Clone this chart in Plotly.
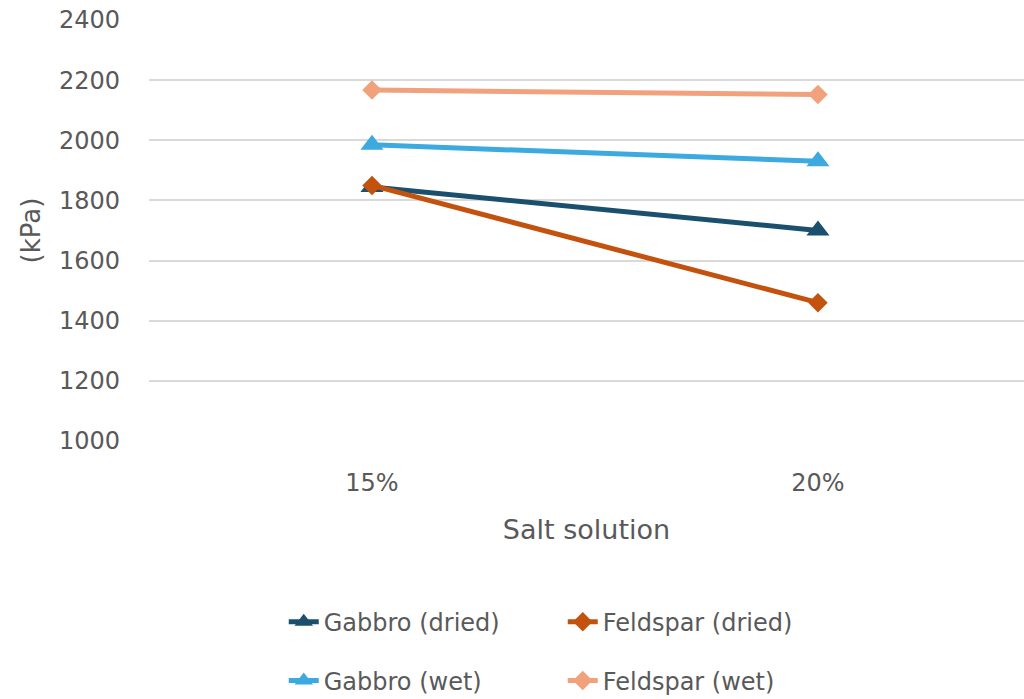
import plotly.graph_objects as go

# Salt solution concentrations (x categories)
concentrations = ["15%", "20%"]

# Strength values in kPa
gabbro_dried = [1845, 1700]
feldspar_dried = [1850, 1460]
gabbro_wet = [1985, 1930]
feldspar_wet = [2167, 2152]

y_ticks = [1000, 1200, 1400, 1600, 1800, 2000, 2200, 2400]

FONT = "DejaVu Sans"
TEXT_COLOR = "#595959"
GRID_COLOR = "#d9d9d9"

series = [
    ("Gabbro (dried)", gabbro_dried, "#1a4f6e", "triangle-up", 20, "legend"),
    ("Feldspar (dried)", feldspar_dried, "#c4520f", "diamond", 15, "legend"),
    ("Gabbro (wet)", gabbro_wet, "#3ca9df", "triangle-up", 20, "legend2"),
    ("Feldspar (wet)", feldspar_wet, "#f1a17b", "diamond", 15, "legend2"),
]

fig = go.Figure()
for name, values, color, symbol, size, legend in series:
    fig.add_trace(go.Scatter(
        x=[0, 1],
        y=values,
        name=name,
        mode="lines+markers",
        line=dict(color=color, width=5),
        marker=dict(symbol=symbol, size=size, color=color),
        legend=legend,
    ))

legend_style = dict(
    orientation="h",
    xanchor="left",
    yanchor="middle",
    x=0.154,
    font=dict(family=FONT, size=24, color=TEXT_COLOR),
    entrywidth=234,
    bgcolor="rgba(0,0,0,0)",
    traceorder="normal",
)

fig.update_layout(
    width=1024,
    height=699,
    margin=dict(l=149, r=0, t=20, b=258, autoexpand=False),
    paper_bgcolor="white",
    plot_bgcolor="white",
    font=dict(family=FONT, color=TEXT_COLOR, size=24),
    legend=dict(y=-0.43, **legend_style),
    legend2=dict(y=-0.57, **legend_style),
    xaxis=dict(
        range=[-0.5, 1.462],
        tickvals=[0, 1],
        ticktext=concentrations,
        showgrid=False,
        zeroline=False,
        showline=False,
        ticks="",
        tickfont=dict(family=FONT, size=24, color=TEXT_COLOR),
        ticklabelstandoff=25,
        title=dict(text="Salt solution", font=dict(family=FONT, size=27, color=TEXT_COLOR), standoff=24),
    ),
    yaxis=dict(
        range=[1000, 2400],
        tickvals=y_ticks,
        showgrid=True,
        gridcolor=GRID_COLOR,
        gridwidth=2,
        zeroline=False,
        showline=False,
        ticks="",
        tickfont=dict(family=FONT, size=24, color=TEXT_COLOR),
        ticklabelstandoff=28,
    ),
    annotations=[
        dict(
            text="(kPa)",
            textangle=-90,
            xref="paper",
            yref="paper",
            x=-0.136,
            y=0.5,
            xanchor="center",
            yanchor="middle",
            showarrow=False,
            font=dict(family=FONT, size=26, color=TEXT_COLOR),
        )
    ],
)

fig.write_html("out.html")
